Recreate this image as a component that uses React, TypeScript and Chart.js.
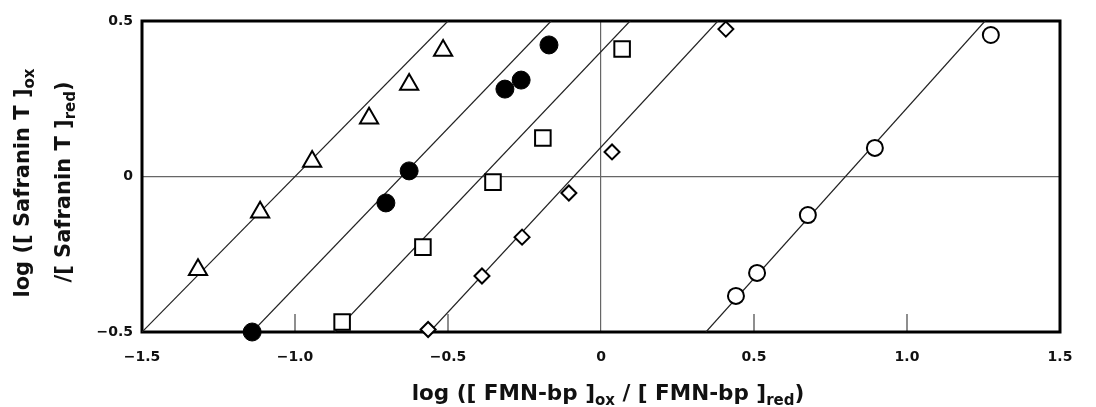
import React, { useEffect, useRef } from 'react';
import { Chart, registerables } from 'chart.js';

Chart.register(...registerables);

// ---- data (x = log([FMN-bp]ox/[FMN-bp]red), y = log([Safranin T]ox/[Safranin T]red)) ----
const triangleX = [-1.317, -1.114, -0.944, -0.758, -0.627, -0.516];
const triangleY = [-0.300, -0.115, 0.048, 0.187, 0.296, 0.405];

const filledX = [-1.14, -0.703, -0.627, -0.314, -0.261, -0.170];
const filledY = [-0.50, -0.085, 0.018, 0.281, 0.310, 0.423];

const squareX = [-0.846, -0.582, -0.353, -0.190, 0.069];
const squareY = [-0.468, -0.227, -0.018, 0.124, 0.410];

const diamondX = [-0.565, -0.389, -0.258, -0.105, 0.036, 0.408];
const diamondY = [-0.492, -0.320, -0.195, -0.053, 0.079, 0.474];

const openX = [0.441, 0.510, 0.676, 0.895, 1.274];
const openY = [-0.384, -0.310, -0.124, 0.092, 0.455];

// fitted lines: [x at y=-0.5, x at y=0.5]
const triangleLineX = [-1.5, -0.5];
const filledLineX = [-1.14, -0.163];
const squareLineX = [-0.87, 0.095];
const diamondLineX = [-0.56, 0.382];
const openLineX = [0.343, 1.255];
const lineY = [-0.5, 0.5];

const xTicks = [-1.5, -1.0, -0.5, 0, 0.5, 1.0, 1.5];
const yTicks = [-0.5, 0, 0.5];

type Part = { t: string; sub?: boolean };
const xTitle: Part[] = [
  { t: 'log ([ FMN-bp ]' },
  { t: 'ox', sub: true },
  { t: ' / [ FMN-bp ]' },
  { t: 'red', sub: true },
  { t: ')' },
];
const yTitle1: Part[] = [{ t: 'log ([ Safranin T ]' }, { t: 'ox', sub: true }];
const yTitle2: Part[] = [{ t: '/[ Safranin T ]' }, { t: 'red', sub: true }, { t: ')' }];

const FAMILY = '"DejaVu Sans", sans-serif';

const zip = (xs: number[], ys: number[]) => xs.map((x, i) => ({ x, y: ys[i] }));
const fmt = (v: number) => (Math.abs(v) < 1e-9 ? '0' : (v < 0 ? '\u2212' : '') + Math.abs(v).toFixed(1));

function drawRich(ctx: CanvasRenderingContext2D, parts: Part[], cx: number, baseY: number, size: number) {
  const mainFont = `bold ${size}px ${FAMILY}`;
  const subFont = `bold ${Math.round(size * 0.72)}px ${FAMILY}`;
  let total = 0;
  const widths = parts.map((p) => {
    ctx.font = p.sub ? subFont : mainFont;
    const w = ctx.measureText(p.t).width;
    total += w;
    return w;
  });
  let x = cx - total / 2;
  ctx.textAlign = 'left';
  ctx.textBaseline = 'alphabetic';
  ctx.fillStyle = '#111';
  parts.forEach((p, i) => {
    ctx.font = p.sub ? subFont : mainFont;
    ctx.fillText(p.t, x, baseY + (p.sub ? 5 : 0));
    x += widths[i];
  });
}

const framePlugin = {
  id: 'frameAndTitles',
  beforeDatasetsDraw(chart: any) {
    const { ctx, chartArea } = chart;
    const { left, right, top, bottom } = chartArea;
    const xs = chart.scales.x;
    ctx.save();
    // inside tick marks on bottom axis
    ctx.strokeStyle = '#444';
    ctx.lineWidth = 1.2;
    xTicks.forEach((v) => {
      if (v === 0 || v === -1.5 || v === 1.5) return;
      const px = xs.getPixelForValue(v);
      ctx.beginPath();
      ctx.moveTo(px, bottom);
      ctx.lineTo(px, bottom - 18);
      ctx.stroke();
    });
    // frame
    ctx.strokeStyle = '#000';
    ctx.lineWidth = 3;
    ctx.strokeRect(left, top, right - left, bottom - top);
    ctx.restore();
  },
  afterDraw(chart: any) {
    const { ctx, chartArea } = chart;
    ctx.save();
    drawRich(ctx, xTitle, (chartArea.left + chartArea.right) / 2 + 7, 400, 21.5);
    ctx.save();
    ctx.translate(29, 183);
    ctx.rotate(-Math.PI / 2);
    drawRich(ctx, yTitle1, 0, 0, 21);
    ctx.restore();
    ctx.save();
    ctx.translate(70, 182);
    ctx.rotate(-Math.PI / 2);
    drawRich(ctx, yTitle2, 0, 0, 21);
    ctx.restore();
    ctx.restore();
  },
};

const markerBase = { showLine: false, clip: false as any, order: 0 };
const lineBase = {
  showLine: true,
  pointRadius: 0,
  borderColor: '#222',
  borderWidth: 1.2,
  order: 1,
  fill: false,
};

export default function App() {
  const ref = useRef<HTMLCanvasElement | null>(null);
  useEffect(() => {
    if (!ref.current) return;
    Chart.defaults.font.family = FAMILY;
    const chart = new Chart(ref.current, {
      type: 'scatter',
      data: {
        datasets: [
          { ...markerBase, data: zip(triangleX, triangleY), pointStyle: 'triangle', pointRadius: 10.5, backgroundColor: '#fff', borderColor: '#000', borderWidth: 2 },
          { ...markerBase, data: zip(filledX, filledY), pointStyle: 'circle', pointRadius: 9, backgroundColor: '#000', borderColor: '#000', borderWidth: 1 },
          { ...markerBase, data: zip(squareX, squareY), pointStyle: 'rect', pointRadius: 11, backgroundColor: '#fff', borderColor: '#000', borderWidth: 2 },
          { ...markerBase, data: zip(diamondX, diamondY), pointStyle: 'rectRot', pointRadius: 7.5, backgroundColor: '#fff', borderColor: '#000', borderWidth: 2 },
          { ...markerBase, data: zip(openX, openY), pointStyle: 'circle', pointRadius: 8, backgroundColor: '#fff', borderColor: '#000', borderWidth: 2 },
          { ...lineBase, data: zip(triangleLineX, lineY) },
          { ...lineBase, data: zip(filledLineX, lineY) },
          { ...lineBase, data: zip(squareLineX, lineY) },
          { ...lineBase, data: zip(diamondLineX, lineY) },
          { ...lineBase, data: zip(openLineX, lineY) },
        ] as any,
      },
      options: {
        animation: false,
        responsive: false,
        layout: { padding: { top: 21, right: 36, left: 0, bottom: 0 } },
        plugins: { legend: { display: false }, tooltip: { enabled: false } },
        scales: {
          x: {
            type: 'linear',
            min: -1.5,
            max: 1.5,
            afterBuildTicks: (s: any) => { s.ticks = xTicks.map((v) => ({ value: v })); },
            afterFit: (s: any) => { s.height = 75; },
            border: { display: false },
            grid: {
              drawTicks: false,
              color: (c: any) => (c.tick && c.tick.value === 0 ? '#666' : 'rgba(0,0,0,0)'),
              lineWidth: 1.2,
            },
            ticks: {
              padding: 17,
              color: '#111',
              font: { size: 14, weight: 'bold', family: FAMILY },
              callback: (v: any) => fmt(Number(v)),
              maxRotation: 0,
              autoSkip: false,
            },
          },
          y: {
            type: 'linear',
            min: -0.5,
            max: 0.5,
            afterBuildTicks: (s: any) => { s.ticks = yTicks.map((v) => ({ value: v })); },
            afterFit: (s: any) => { s.width = 142; },
            border: { display: false },
            grid: {
              drawTicks: false,
              color: (c: any) => (c.tick && c.tick.value === 0 ? '#666' : 'rgba(0,0,0,0)'),
              lineWidth: 1.2,
            },
            ticks: {
              padding: 9,
              color: '#111',
              font: { size: 14, weight: 'bold', family: FAMILY },
              callback: (v: any) => fmt(Number(v)),
              autoSkip: false,
            },
          },
        },
      } as any,
      plugins: [framePlugin],
    });
    return () => chart.destroy();
  }, []);
  return (
    <div style={{ position: 'absolute', left: 0, top: 0, width: 1096, height: 407, background: '#fff' }}>
      <canvas ref={ref} width={1096} height={407} style={{ display: 'block' }} />
    </div>
  );
}
